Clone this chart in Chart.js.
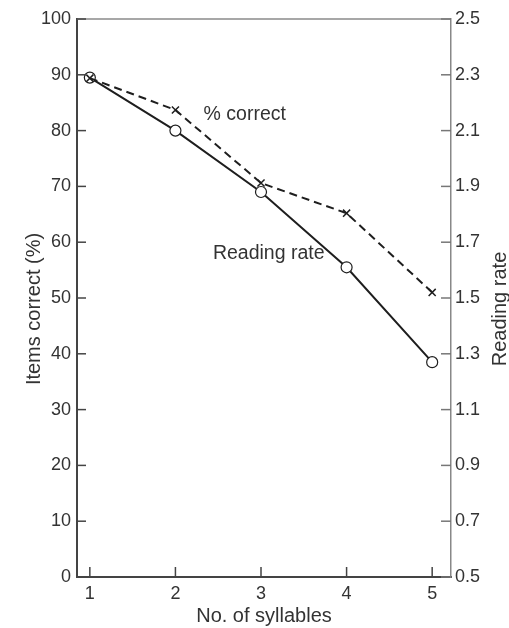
<!DOCTYPE html>
<html lang="en">
<head>
  <meta charset="UTF-8" />
  <title>Items correct and reading rate by number of syllables</title>
  <script src="https://cdn.jsdelivr.net/npm/chart.js"></script>
  <style>
    html, body { margin: 0; padding: 0; background: #fff; }
    canvas { display: block; }
  </style>
</head>
<body>

  <canvas id="grafico" width="509" height="628"></canvas>

  <script>
    const syllables = [1, 2, 3, 4, 5];
    const percentCorrect = [89.4, 83.7, 70.6, 65.2, 51.0];
    const readingRate = [2.29, 2.10, 1.88, 1.61, 1.27];
    const percentTicks = [0, 10, 20, 30, 40, 50, 60, 70, 80, 90, 100];
    const rateTicks = [0.5, 0.7, 0.9, 1.1, 1.3, 1.5, 1.7, 1.9, 2.1, 2.3, 2.5];
    const seriesNames = ['% correct', 'Reading rate'];
    // where the in-plot labels sit (x in syllables, y in % correct)
    const labelSpots = [[2.81, 82.8], [3.09, 57.9]];

    const ink = '#1e1e1e';
    const textInk = '#333';
    const fontFamily = "'Liberation Sans', Arial, Helvetica, sans-serif";
    const font = { family: fontFamily, size: 18 };
    const titleFont = { family: fontFamily, size: 20 };

    function line(ctx, x1, y1, x2, y2) {
      ctx.beginPath();
      ctx.moveTo(x1, y1);
      ctx.lineTo(x2, y2);
      ctx.stroke();
    }

    const frame = {
      id: 'frame',
      afterDraw(chart) {
        const { ctx, chartArea: a, scales } = chart;
        ctx.save();

        // top edge of the box
        ctx.strokeStyle = '#8a8a8a';
        ctx.lineWidth = 1.5;
        line(ctx, a.left, a.top, a.right, a.top);

        // tick marks point into the plot
        ctx.strokeStyle = '#444';
        ctx.lineWidth = 1.5;
        scales.y.ticks.forEach(t => {
          const py = scales.y.getPixelForValue(t.value);
          line(ctx, a.left, py, a.left + 9, py);
        });
        ctx.strokeStyle = '#777';
        scales.y2.ticks.forEach(t => {
          const py = scales.y2.getPixelForValue(t.value);
          line(ctx, a.right - 10, py, a.right, py);
        });
        ctx.strokeStyle = '#444';
        scales.x.ticks.forEach(t => {
          const px = scales.x.getPixelForValue(t.value);
          line(ctx, px, a.bottom, px, a.bottom - 10);
        });

        // series labels inside the plot
        ctx.font = '19.5px ' + fontFamily;
        ctx.fillStyle = textInk;
        ctx.textAlign = 'center';
        ctx.textBaseline = 'middle';
        seriesNames.forEach((name, i) => {
          ctx.fillText(name,
            scales.x.getPixelForValue(labelSpots[i][0]),
            scales.y.getPixelForValue(labelSpots[i][1]));
        });

        // vertical axis titles, both read bottom to top
        ctx.font = '20px ' + fontFamily;
        [['Items correct (%)', 34], ['Reading rate', 500]].forEach(([text, x]) => {
          ctx.save();
          ctx.translate(x, 309);
          ctx.rotate(-Math.PI / 2);
          ctx.fillText(text, 0, 0);
          ctx.restore();
        });

        ctx.restore();
      }
    };

    new Chart(document.getElementById('grafico').getContext('2d'), {
      type: 'line',
      data: {
        datasets: [
          {
            label: seriesNames[0],
            data: syllables.map((x, i) => ({ x, y: percentCorrect[i] })),
            yAxisID: 'y',
            borderColor: ink,
            borderWidth: 2,
            borderDash: [8, 5],
            pointStyle: 'crossRot',
            pointRadius: 5,
            pointBorderWidth: 1.5,
            pointBorderColor: ink,
            pointBackgroundColor: ink,
            tension: 0
          },
          {
            label: seriesNames[1],
            data: syllables.map((x, i) => ({ x, y: readingRate[i] })),
            yAxisID: 'y2',
            borderColor: ink,
            borderWidth: 2,
            pointStyle: 'circle',
            pointRadius: 5.5,
            pointBorderWidth: 1.2,
            pointBorderColor: ink,
            pointBackgroundColor: '#fff',
            tension: 0
          }
        ]
      },
      options: {
        responsive: false,
        animation: false,
        layout: { padding: { top: 19, left: 0, right: 0, bottom: 0 } },
        plugins: {
          legend: { display: false },
          tooltip: { enabled: false }
        },
        scales: {
          x: {
            type: 'linear',
            position: 'bottom',
            min: 0.85,
            max: 5.22,
            afterBuildTicks: s => { s.ticks = syllables.map(v => ({ value: v })); },
            afterFit: s => { s.height = 51; },
            ticks: { font, color: textInk, padding: 6, maxRotation: 0, callback: v => String(v) },
            grid: { display: false, drawTicks: false },
            border: { display: true, color: '#444', width: 2 },
            title: { display: true, text: 'No. of syllables', font: titleFont, color: textInk, padding: 0 }
          },
          y: {
            position: 'left',
            min: 0,
            max: 100,
            afterBuildTicks: s => { s.ticks = percentTicks.map(v => ({ value: v })); },
            afterFit: s => { s.width = 77; },
            ticks: { font, color: textInk, padding: 6 },
            grid: { display: false, drawTicks: false },
            border: { display: true, color: '#444', width: 2 }
          },
          y2: {
            position: 'right',
            min: 0.5,
            max: 2.5,
            afterBuildTicks: s => { s.ticks = rateTicks.map(v => ({ value: v })); },
            afterFit: s => { s.width = 58; },
            ticks: { font, color: textInk, padding: 4, callback: v => v.toFixed(1) },
            grid: { display: false, drawTicks: false },
            border: { display: true, color: '#888', width: 1.5 }
          }
        }
      },
      plugins: [frame]
    });
  </script>

</body>
</html>
